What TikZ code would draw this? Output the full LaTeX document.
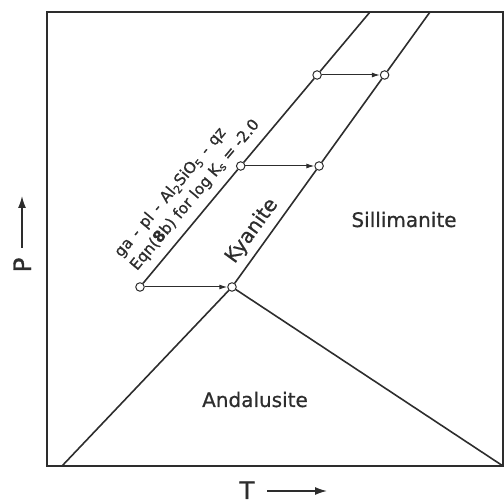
\documentclass[tikz,border=0pt]{standalone}
\usepackage{fontspec}
\setmainfont{DejaVu Sans}
\newfontfamily\medfont[FakeBold=0.8]{DejaVu Sans}
\newfontfamily\heavyfont[FakeBold=1.5]{DejaVu Sans}
\usetikzlibrary{arrows.meta}
\definecolor{ink}{RGB}{45,45,45}
\newcommand{\sep}{\hspace{0.42em}-\hspace{0.42em}}
\tikzset{
  frame/.style={draw=ink, line width=1.8pt},
  phase/.style={draw=ink, line width=1.6pt},
  pt/.style={circle, draw=ink, fill=white, line width=1pt, inner sep=0pt, minimum size=8.5pt},
  arr/.style={draw=ink, line width=1pt, -{Latex[length=8pt,width=5pt]}},
  axarr/.style={draw=ink, line width=1.4pt, -{Latex[length=12pt,width=8pt]}},
  big/.style={text=ink, font=\medfont\fontsize{20}{24}\selectfont, inner sep=0pt},
  axis/.style={text=ink, font=\heavyfont\fontsize{24}{28}\selectfont, inner sep=0pt},
  small/.style={text=ink, font=\medfont\fontsize{15.5}{20.5}\selectfont, inner sep=0pt, align=left}
}
\begin{document}
\begin{tikzpicture}[x=1pt,y=-1pt]
\useasboundingbox (0,0) rectangle (504,502);
\draw[frame] (47,12) rectangle (503,466);
% invariant points
\node[pt] (tp) at (232,287) {};
\node[pt] (r0) at (140,287) {};
\node[pt] (r1) at (240.7,166) {};
\node[pt] (r2) at (317.1,75) {};
\node[pt] (k1) at (319.1,166) {};
\node[pt] (k2) at (384.6,75) {};
\coordinate (rtop) at (370,12);
\coordinate (ktop) at (430,12);
\coordinate (abot) at (62,466);
\coordinate (sbot) at (503,466);
% phase boundaries
\draw[phase] (r0) -- (r1);
\draw[phase] (r1) -- (r2);
\draw[phase] (r2) -- (rtop);
\draw[phase] (tp) -- (k1);
\draw[phase] (k1) -- (k2);
\draw[phase] (k2) -- (ktop);
\draw[phase] (tp) -- (abot);
\draw[phase] (tp) -- (sbot);
% shift arrows
\draw[arr] (r0) -- (tp);
\draw[arr] (r1) -- (k1);
\draw[arr] (r2) -- (k2);
% labels
\node[small, rotate=50, anchor=south west] (eqn) at (139.5,273.5)
  {ga\sep pl\sep Al\textsubscript{2}SiO\textsubscript{5}\sep qz\\Eqn(\textbf{8}b) for log K\textsubscript{s} = -2.0};
\node[big, rotate=54] (ky) at (252,231) {Kyanite};
\node[big, anchor=base] (si) at (404,227) {Sillimanite};
\node[big, anchor=base] (an) at (255,407) {Andalusite};
% axes
\node[axis, anchor=base] (tl) at (247,499) {T};
\coordinate (ta) at (267,491);
\coordinate (tb) at (327,491);
\draw[axarr] (ta) -- (tb);
\node[axis, rotate=90, anchor=base] (pl) at (31,265) {P};
\coordinate (pa) at (22,248);
\coordinate (pb) at (22,196);
\draw[axarr] (pa) -- (pb);
\end{tikzpicture}
\end{document}
